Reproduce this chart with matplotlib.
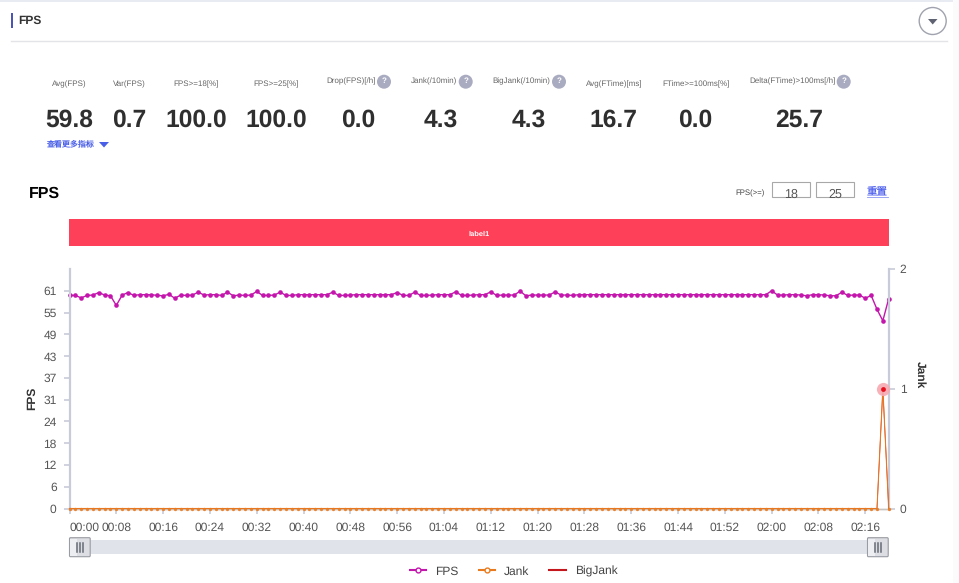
import matplotlib
matplotlib.use('Agg')
import matplotlib.pyplot as plt
from matplotlib.lines import Line2D
from matplotlib.patches import Circle, FancyBboxPatch, Polygon, Rectangle

plt.rcParams['font.family'] = ['Liberation Sans', 'Noto Sans CJK SC', 'DejaVu Sans']
plt.rcParams['text.hinting'] = 'none'

W, H = 959, 583
PX = 0.72  # css px to points at dpi 100

# ---- data
metric_names = ['Avg(FPS)', 'Var(FPS)', 'FPS>=18[%]', 'FPS>=25[%]', 'Drop(FPS)[/h]', 'Jank(/10min)',
                'BigJank(/10min)', 'Avg(FTime)[ms]', 'FTime>=100ms[%]', 'Delta(FTime)>100ms[/h]']
metric_values = ['59.8', '0.7', '100.0', '100.0', '0.0', '4.3', '4.3', '16.7', '0.0', '25.7']

time_labels = ['00:00', '00:08', '00:16', '00:24', '00:32', '00:40', '00:48', '00:56', '01:04',
               '01:12', '01:20', '01:28', '01:36', '01:44', '01:52', '02:00', '02:08', '02:16']
fps_ticks = [0, 6.1, 12.2, 18.3, 24.4, 30.5, 36.6, 42.7, 48.8, 54.9, 61]
fps_tick_labels = ['0', '6', '12', '18', '24', '31', '37', '43', '49', '55', '61']
jank_ticks = [0, 1, 2]

fps = [59.7, 59.7, 59.0, 59.7, 59.8, 60.5, 59.8, 59.6, 56.9, 59.8,
       60.5, 59.7, 59.9, 59.9, 59.9, 59.7, 59.6, 60.0, 58.9, 59.8,
       59.7, 59.8, 60.6, 59.8, 59.9, 59.9, 59.7, 60.6, 59.6, 59.8,
       59.7, 59.8, 60.8, 59.7, 59.7, 59.8, 60.6, 59.7, 59.7, 59.9,
       59.9, 59.9, 59.9, 59.9, 59.9, 60.6, 59.7, 59.7, 59.8, 59.9,
       59.9, 59.9, 59.9, 59.9, 59.9, 59.9, 60.5, 59.7, 59.7, 60.6,
       59.7, 59.7, 59.8, 59.9, 59.9, 59.9, 60.7, 59.7, 59.7, 59.8,
       59.9, 59.9, 60.7, 59.7, 59.8, 59.8, 59.8, 60.9, 59.6, 59.8,
       59.8, 59.8, 59.8, 60.7, 59.8, 59.8, 59.7, 59.9, 59.9, 59.9,
       59.9, 59.9, 59.9, 59.9, 59.9, 59.9, 59.9, 59.9, 59.9, 59.9,
       59.9, 59.9, 59.9, 59.9, 59.9, 59.9, 59.9, 59.9, 59.9, 59.9,
       59.9, 59.9, 59.9, 59.9, 59.9, 59.9, 59.9, 59.9, 59.9, 59.9,
       61.0, 59.8, 59.8, 59.9, 59.9, 59.8, 59.6, 59.9, 59.9, 59.8,
       59.6, 59.6, 60.6, 59.7, 59.8, 59.8, 58.9, 59.7, 55.8, 52.6,
       58.8]
jank = [0, 0, 0, 0, 0, 0, 0, 0, 0, 0, 0, 0, 0, 0, 0, 0, 0, 0, 0, 0,
        0, 0, 0, 0, 0, 0, 0, 0, 0, 0, 0, 0, 0, 0, 0, 0, 0, 0, 0, 0,
        0, 0, 0, 0, 0, 0, 0, 0, 0, 0, 0, 0, 0, 0, 0, 0, 0, 0, 0, 0,
        0, 0, 0, 0, 0, 0, 0, 0, 0, 0, 0, 0, 0, 0, 0, 0, 0, 0, 0, 0,
        0, 0, 0, 0, 0, 0, 0, 0, 0, 0, 0, 0, 0, 0, 0, 0, 0, 0, 0, 0,
        0, 0, 0, 0, 0, 0, 0, 0, 0, 0, 0, 0, 0, 0, 0, 0, 0, 0, 0, 0,
        0, 0, 0, 0, 0, 0, 0, 0, 0, 0, 0, 0, 0, 0, 0, 0, 0, 0, 0, 1, 0]
bigjank = [0, 0, 0, 0, 0, 0, 0, 0, 0, 0, 0, 0, 0, 0, 0, 0, 0, 0, 0, 0,
           0, 0, 0, 0, 0, 0, 0, 0, 0, 0, 0, 0, 0, 0, 0, 0, 0, 0, 0, 0,
           0, 0, 0, 0, 0, 0, 0, 0, 0, 0, 0, 0, 0, 0, 0, 0, 0, 0, 0, 0,
           0, 0, 0, 0, 0, 0, 0, 0, 0, 0, 0, 0, 0, 0, 0, 0, 0, 0, 0, 0,
           0, 0, 0, 0, 0, 0, 0, 0, 0, 0, 0, 0, 0, 0, 0, 0, 0, 0, 0, 0,
           0, 0, 0, 0, 0, 0, 0, 0, 0, 0, 0, 0, 0, 0, 0, 0, 0, 0, 0, 0,
           0, 0, 0, 0, 0, 0, 0, 0, 0, 0, 0, 0, 0, 0, 0, 0, 0, 0, 0, 1, 0]
xs = list(range(len(fps)))
x_ticks = list(range(0, 137, 8))

# layout of the page around the chart, in pixels
label_x = [69, 129.5, 196, 276, 351, 434, 521.5, 614, 695.7, 792.5]
value_x = [69, 129.5, 196, 276, 358, 441, 529, 613.5, 695.5, 799.5]
help_x = {4: 384, 5: 465.7, 6: 559, 9: 843.7}

C_FPS, C_JANK, C_BIG = '#c415ad', '#ea7a1e', '#c4171d'
C_AXIS, C_TEXT = '#c8cbd8', '#555555'

fig = plt.figure(figsize=(W / 100, H / 100), dpi=100, facecolor='white')

# page overlay using pixel coords
page = fig.add_axes([0, 0, 1, 1])
page.set_xlim(0, W)
page.set_ylim(H, 0)
page.axis('off')

page.add_patch(Rectangle((0, 0), W, 1.5, fc='#e9ebf2', ec='none'))
page.add_patch(Rectangle((953, 0), 6, H, fc='#fbfbfb', ec='none'))
page.add_patch(Rectangle((11, 13), 2, 15, fc='#4a55b5', ec='none'))
page.text(18, 20.5, 'FPS', fontsize=12 * PX, fontweight='bold', color='#333333', va='center')
page.plot([11, 947], [40.5, 40.5], color='#e3e4e8', lw=1)
page.add_patch(Circle((932.7, 21), 13.5, fc='white', ec='#a0a2ad', lw=1))
page.add_patch(Polygon([[928, 19], [937.5, 19], [932.7, 24.5]], fc='#5f6270', ec='none'))

for i, name in enumerate(metric_names):
    y = 81.5 if i in help_x else 84.3
    page.text(label_x[i], y, name, fontsize=8 * PX, color='#666666', ha='center', va='center')
    page.text(value_x[i], 120, metric_values[i], fontsize=24.6 * PX, fontweight='bold', color='#2f2f2f',
              ha='center', va='center')
for i, hx in help_x.items():
    page.add_patch(Circle((hx, 81.7), 7, fc='#a9abc0', ec='none'))
    page.text(hx, 81.3, '?', fontsize=8 * PX, fontweight='bold', color='white', ha='center', va='center')

page.text(46, 144.3, '查看更多指标', fontsize=8 * PX, color='#4a5fe8', va='center')
page.add_patch(Polygon([[99, 142], [109, 142], [104, 147.5]], fc='#4a5fe8', ec='none'))

page.text(29, 193.5, 'FPS', fontsize=16 * PX, fontweight='bold', color='black', va='center')
page.text(735, 193, 'FPS(>=)', fontsize=7.8 * PX, color='#444444', va='center')
for bx, val in [(772.3, '18'), (816.3, '25')]:
    box = Rectangle((bx, 182.3), 37.5, 14.4, fc='white', ec='#a8a8a8', lw=0.8)
    page.add_patch(box)
    t = page.text(bx + 18.7, 195, val, fontsize=12.5 * PX, color='#555555', ha='center', va='center')
    t.set_clip_path(box)
page.text(877, 191.5, '重置', fontsize=10.5 * PX, color='#5566ee', ha='center', va='center')
page.plot([867, 887.5], [196.5, 196.5], color='#8a96f2', lw=0.6)

page.add_patch(Rectangle((69, 219), 820, 27, fc='#ff4059', ec='none'))
page.text(479, 234.5, 'label1', fontsize=7.5 * PX, fontweight='bold', color='white', ha='center', va='center')

# slider under the chart
page.add_patch(Rectangle((69.5, 540), 819, 13.7, fc='#e0e3ea', ec='none'))
for sx in [69.5, 867.5]:
    page.add_patch(FancyBboxPatch((sx, 537.7), 20.7, 19, boxstyle='round,pad=0,rounding_size=1',
                                  fc='#dcdee3', ec='#9a9ca3', lw=0.8))
    page.add_patch(Rectangle((sx + 0.8, 538.5), 7, 17.4, fc='#eceef1', ec='none'))
    for dx in [7.5, 10.3, 13.1]:
        page.plot([sx + dx, sx + dx], [542.5, 551.5], color='#666a75', lw=1.1)

# main chart
ax = fig.add_axes([69.5 / W, (H - 508.5) / H, 819.2 / W, 239.5 / H])
ax.patch.set_alpha(0)
ax.plot(xs, fps, color=C_FPS, lw=1, marker='o', ms=3.3, mew=0, clip_on=False, zorder=4)
ax.set_xlim(0, 140)
ax.set_ylim(0, 67.1)
ax.set_xticks(x_ticks)
ax.set_xticklabels(time_labels)
ax.get_xticklabels()[0].set_ha('left')
ax.set_yticks(fps_ticks)
ax.set_yticklabels(fps_tick_labels)
ax.tick_params(axis='x', length=3.6, width=1.2, color=C_AXIS, labelcolor=C_TEXT, labelsize=12 * PX, pad=5.9)
ax.tick_params(axis='y', length=4.3, width=1.2, color=C_AXIS, labelcolor=C_TEXT, labelsize=12 * PX, pad=5)
ax.set_ylabel('FPS', fontsize=12 * PX, fontweight='bold', color='#333333')
ax.yaxis.set_label_coords((38 - 69.5) / 819.2, 0.46)

ax2 = ax.twinx()
ax2.plot(xs, bigjank, color=C_BIG, lw=0.5, clip_on=False, zorder=3)
ax2.plot(xs, jank, color=C_JANK, lw=0.8, marker='o', ms=2.4, mew=0, alpha=0.9, clip_on=False, zorder=4)
ax2.scatter([xs[139]], [jank[139]], s=90, color='#f7a9b1', alpha=0.9, lw=0, clip_on=False, zorder=5)
ax2.scatter([xs[139]], [jank[139]], s=12, color='#e8101e', lw=0, clip_on=False, zorder=6)
ax2.set_ylim(0, 2)
ax2.set_yticks(jank_ticks)
ax2.tick_params(axis='y', length=4.3, width=1.2, color=C_AXIS, labelcolor=C_TEXT, labelsize=12 * PX, pad=3.6)
ax2.set_ylabel('Jank', fontsize=12 * PX, fontweight='bold', color='#333333', rotation=270, va='center')
ax2.yaxis.set_label_coords((920 - 69.5) / 819.2, 0.56)

for a in (ax, ax2):
    a.spines['top'].set_visible(False)
    for side in ('left', 'right'):
        a.spines[side].set_color(C_AXIS)
        a.spines[side].set_linewidth(1.5)
    a.spines['bottom'].set_color('#c9c4c0')
    a.spines['bottom'].set_linewidth(1)

handles = [Line2D([], [], color=C_FPS, lw=1.5, marker='o', ms=3.5, mfc='white', mew=1),
           Line2D([], [], color=C_JANK, lw=1.5, marker='o', ms=3.5, mfc='white', mew=1),
           Line2D([], [], color=C_BIG, lw=1.5)]
fig.legend(handles, ['FPS', 'Jank', 'BigJank'], ncol=3, frameon=False, prop={'size': 12 * PX},
           labelcolor='#444444', handlelength=1.35, handletextpad=0.75, columnspacing=1.7,
           loc='center', bbox_to_anchor=(513.5 / W, (H - 571.5) / H), borderaxespad=0, borderpad=0)

fig.savefig('out.png', dpi=100)
